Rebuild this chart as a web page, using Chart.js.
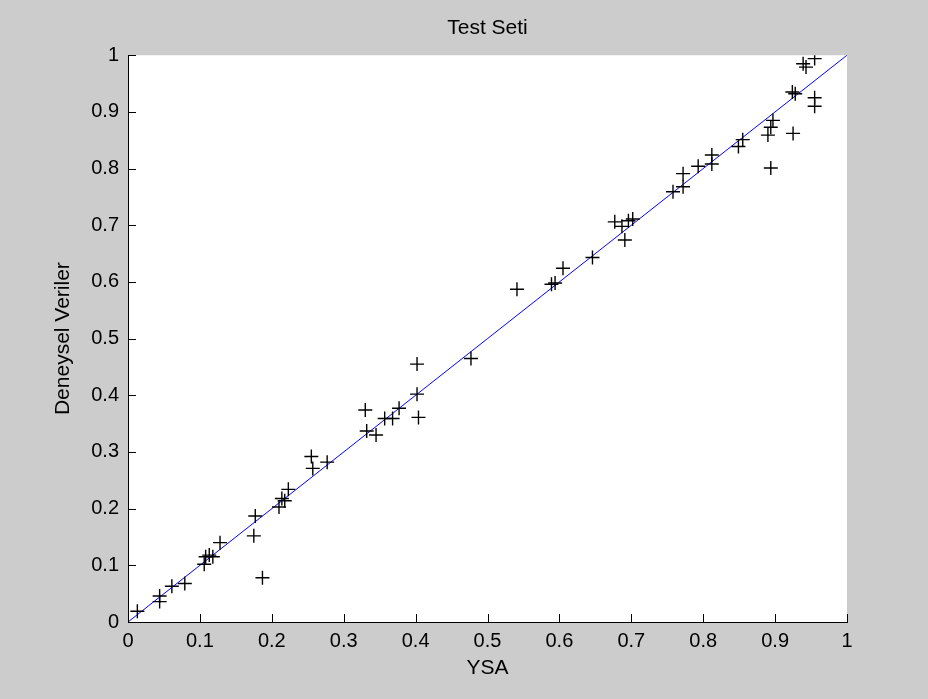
<!DOCTYPE html>
<html lang="tr">
<head>
  <meta charset="UTF-8">
  <title>Test Seti</title>
  <script src="https://cdn.jsdelivr.net/npm/chart.js"></script>
  <style>
    body {
      margin: 0;
      background: #cccccc;
    }
    canvas {
      display: block;
    }
  </style>
</head>
<body>
  <canvas id="chart" width="928" height="699"></canvas>

  <script>
    // YSA (x) vs Deneysel Veriler (y)
    const ysa = [
      0.013, 0.044, 0.044, 0.061, 0.079, 0.106, 0.108, 0.113, 0.118, 0.128,
      0.187, 0.175, 0.177, 0.210, 0.214, 0.218, 0.223, 0.255, 0.257, 0.277,
      0.330, 0.332, 0.345, 0.357, 0.368, 0.377, 0.402, 0.402, 0.404, 0.477,
      0.541, 0.589, 0.594, 0.605, 0.646, 0.677, 0.687, 0.691, 0.696, 0.702,
      0.758, 0.772, 0.772, 0.793, 0.812, 0.812, 0.849, 0.855, 0.890, 0.894,
      0.897, 0.894, 0.925, 0.924, 0.928, 0.955, 0.955, 0.939, 0.943, 0.955
    ];
    const deneysel = [
      0.019, 0.046, 0.036, 0.063, 0.068, 0.102, 0.115, 0.118, 0.115, 0.140,
      0.078, 0.152, 0.187, 0.203, 0.218, 0.214, 0.234, 0.292, 0.271, 0.282,
      0.374, 0.337, 0.330, 0.359, 0.359, 0.377, 0.402, 0.455, 0.361, 0.465,
      0.587, 0.596, 0.598, 0.624, 0.643, 0.706, 0.698, 0.674, 0.708, 0.711,
      0.759, 0.768, 0.791, 0.804, 0.808, 0.824, 0.839, 0.851, 0.859, 0.873,
      0.885, 0.801, 0.862, 0.935, 0.932, 0.925, 0.910, 0.985, 0.979, 0.994
    ];
    const fitLine = [{x: 0, y: 0}, {x: 1, y: 1}];
    const tickLabels = ['0', '0.1', '0.2', '0.3', '0.4', '0.5', '0.6', '0.7', '0.8', '0.9', '1'];

    const FONT = 'Arial, "Liberation Sans", sans-serif';

    // white plot area + inward tick marks, like matlab
    const matlabAxes = {
      id: 'matlabAxes',
      beforeDraw(chart) {
        const {ctx, chartArea: a} = chart;
        ctx.save();
        ctx.fillStyle = '#ffffff';
        ctx.fillRect(a.left, a.top, a.right - a.left, a.bottom - a.top);
        ctx.restore();
      },
      afterDatasetsDraw(chart) {
        const {ctx, chartArea: a} = chart;
        const xs = chart.scales.x, ys = chart.scales.y;
        ctx.save();
        ctx.strokeStyle = '#000000';
        ctx.lineWidth = 1;
        ctx.beginPath();
        xs.ticks.forEach(t => {
          const px = Math.round(xs.getPixelForValue(t.value)) + 0.5;
          ctx.moveTo(px, a.bottom);
          ctx.lineTo(px, a.bottom - 8);
        });
        ys.ticks.forEach(t => {
          const py = Math.round(ys.getPixelForValue(t.value)) + 0.5;
          ctx.moveTo(a.left, py);
          ctx.lineTo(a.left + 8, py);
        });
        ctx.stroke();
        ctx.restore();
      }
    };

    const noPad = (scale) => {
      scale.paddingLeft = 0;
      scale.paddingRight = 0;
      scale.paddingTop = 0;
      scale.paddingBottom = 0;
    };

    new Chart(document.getElementById('chart').getContext('2d'), {
      type: 'scatter',
      data: {
        datasets: [
          {
            label: 'veri',
            data: ysa.map((x, i) => ({x: x, y: deneysel[i]})),
            pointStyle: 'cross',
            pointRadius: 7,
            pointHoverRadius: 7,
            borderColor: '#000000',
            borderWidth: 1.4,
            showLine: false
          },
          {
            label: 'y = x',
            data: fitLine,
            showLine: true,
            borderColor: '#0000ff',
            borderWidth: 1,
            pointRadius: 0
          }
        ]
      },
      options: {
        responsive: false,
        animation: false,
        layout: {padding: {left: 0, right: 81, top: 0, bottom: 0}},
        plugins: {
          legend: {display: false},
          tooltip: {enabled: false},
          title: {
            display: true,
            text: 'Test Seti',
            fullSize: false,
            color: '#000000',
            font: {family: FONT, size: 21, weight: 'normal'},
            padding: {top: 16, bottom: 14}
          }
        },
        scales: {
          x: {
            type: 'linear',
            min: 0,
            max: 1,
            afterFit: (s) => { s.height = 77; noPad(s); },
            ticks: {
              stepSize: 0.1,
              padding: 7,
              color: '#000000',
              maxRotation: 0,
              font: {family: FONT, size: 20},
              callback: (v, i) => tickLabels[i]
            },
            grid: {drawOnChartArea: false, drawTicks: false},
            border: {display: true, color: '#000000', width: 1},
            title: {
              display: true,
              text: 'YSA',
              color: '#000000',
              font: {family: FONT, size: 21},
              padding: {top: 0, bottom: 18}
            }
          },
          y: {
            type: 'linear',
            min: 0,
            max: 1,
            afterFit: (s) => { s.width = 128; noPad(s); },
            ticks: {
              stepSize: 0.1,
              padding: 9,
              color: '#000000',
              font: {family: FONT, size: 20},
              callback: (v, i) => tickLabels[i]
            },
            grid: {drawOnChartArea: false, drawTicks: false},
            border: {display: true, color: '#000000', width: 1},
            title: {
              display: true,
              text: 'Deneysel Veriler',
              color: '#000000',
              font: {family: FONT, size: 21},
              padding: {top: 51, bottom: 0}
            }
          }
        }
      },
      plugins: [matlabAxes]
    });
  </script>
</body>
</html>
